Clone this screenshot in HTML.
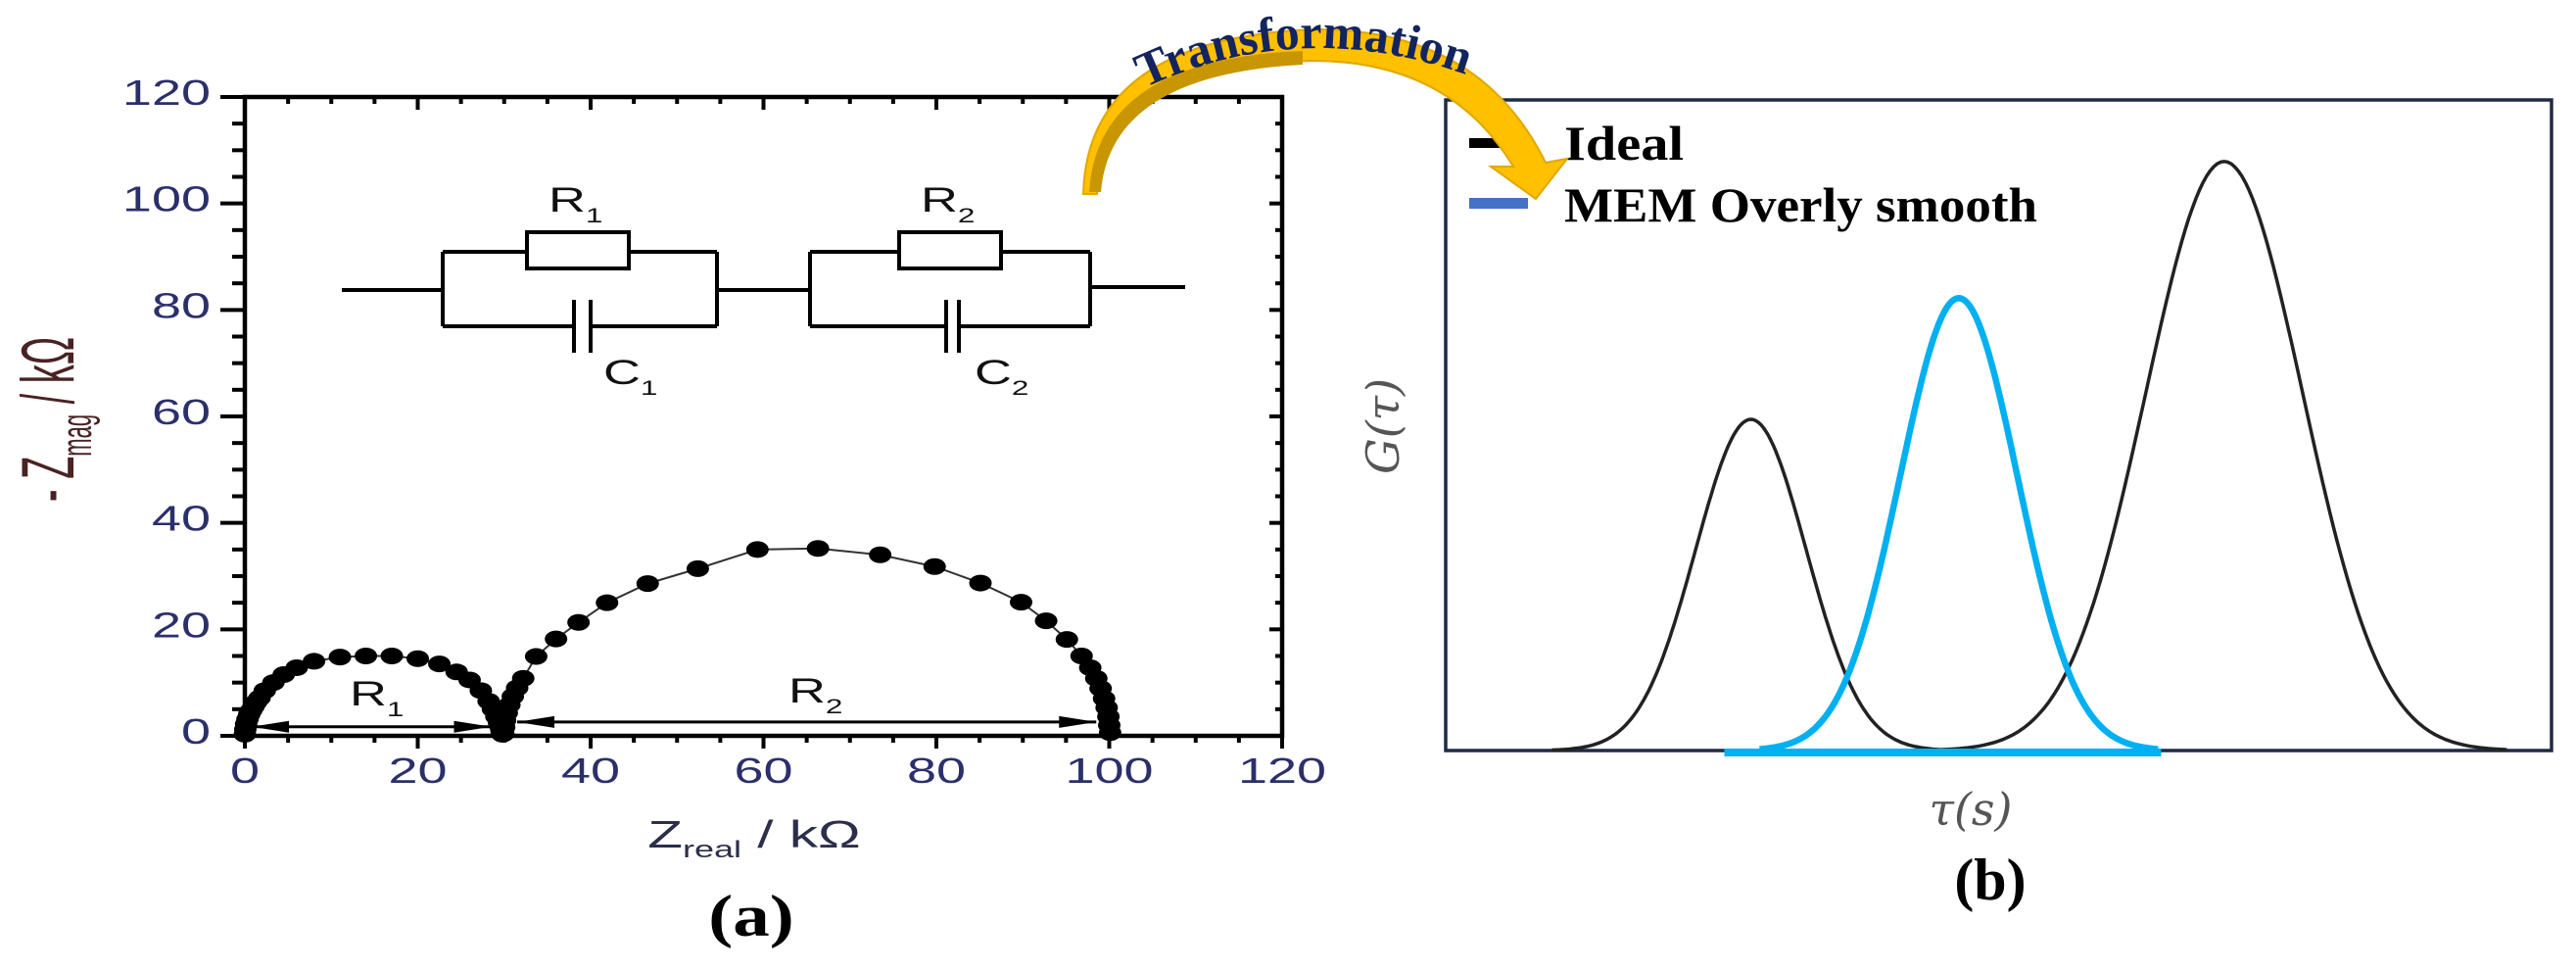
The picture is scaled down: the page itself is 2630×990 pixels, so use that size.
<!DOCTYPE html>
<html><head><meta charset="utf-8"><style>
html,body{margin:0;padding:0;background:#fff;}
svg{display:block;}
</style></head><body>
<svg id="fig" width="2630" height="990" viewBox="0 0 2630 990" xmlns="http://www.w3.org/2000/svg">
<g id="panelA"></g>
<g id="panelB"></g>
<g id="arrowG">
  <defs><path id="txtArc" d="M1168,90 Q1360,0 1570,108"/></defs>
  <path d="M1120,198 Q1130,70 1340,62 Q1480,62 1545,170 L1522,170 L1568,203 L1600,162 L1578,166 Q1510,28 1340,30 Q1110,40 1106,198 Z" fill="#ffc000" stroke="#e0a800" stroke-width="2"/>
  <path d="M1124,196 Q1134,76 1330,66 L1330,52 Q1120,60 1112,196 Z" fill="#c89600"/>
  <text font-family="Liberation Serif, serif" font-weight="bold" font-size="50" fill="#14245e"><textPath href="#txtArc">Transformation</textPath></text>
</g>
</svg>
<script>
// ---------- Panel (a) data ----------
const xTicksA = [0,20,40,60,80,100,120];
const yTicksA = [0,20,40,60,80,100,120];
const arc1Re = [0,0.05,0.15,0.3,0.5,0.75,1,1.3,1.7,2.3,3.3,4.5,6,8,11,14,17,20,22.5,24.5,26,27.3,28.2,28.7,29.1,29.4,29.6,29.7,29.8];
const arc1Im = [0.3,1.2,2.2,3.1,4,4.8,5.5,6.3,7.1,8.5,10,11.5,12.8,14,14.8,15,15,14.5,13.5,12,10.5,8.5,6.5,5,3.6,2.5,1.6,0.9,0.3];
const arc2Re = [29.9,30,30.1,30.3,30.6,31,31.5,32.2,33.7,36,38.6,41.9,46.6,52.4,59.3,66.3,73.5,79.8,85.1,89.8,92.7,95.1,96.8,97.8,98.5,99,99.4,99.7,99.9,100,100.1];
const arc2Im = [0.4,1.6,2.9,4.3,5.8,7.4,9,10.8,14.9,18.2,21.3,25,28.6,31.4,35,35.2,34,31.8,28.7,25.1,21.6,18.1,15,12.8,10.8,8.9,7,5.3,3.6,2,0.6];

// ---------- Panel (b) data ----------
const idealCenters = [27.6, 70.4];
const idealHeights = [0.56, 0.996];
const idealWidths = [5.0, 7.1];
const memCenters = [46.4];
const memHeights = [0.765];
const memWidths = [5.3];

const NS = "http://www.w3.org/2000/svg";
function mk(parent, tag, attrs, text){
  const e = document.createElementNS(NS, tag);
  for (const k in attrs) e.setAttribute(k, attrs[k]);
  if (text !== undefined) e.textContent = text;
  parent.appendChild(e); return e;
}
const A = document.getElementById('panelA');
const B = document.getElementById('panelB');
const SX = 1.5;

const aL=250,aR=1309,aT=99,aB=751;
const xa = v => aL + (v/120)*(aR-aL);
const ya = v => aB - (v/120)*(aB-aT);

const frame = mk(A,'rect',{x:aL,y:aT,width:aR-aL,height:aB-aT,fill:'none',stroke:'#000','stroke-width':4.5});



for (let v=0; v<=120; v+=5){
  const major = v%20===0;
  const lenH = major?13:7;
  const lenV = major?25:13;
  const X = xa(v), Y = ya(v);
  mk(A,'line',{x1:X,y1:aB,x2:X,y2:aB+lenH,stroke:'#000','stroke-width':4});
  mk(A,'line',{x1:X,y1:aT,x2:X,y2:aT+lenH,stroke:'#000','stroke-width':4});
  mk(A,'line',{x1:aL-lenV,y1:Y,x2:aL,y2:Y,stroke:'#000','stroke-width':4});
  mk(A,'line',{x1:aR-lenH,y1:Y,x2:aR,y2:Y,stroke:'#000','stroke-width':4});
}
function stext(parent,x,y,anchor,size,fill,str){
  return mk(parent,'text',{x:0,y:0,'text-anchor':anchor,'font-family':'Liberation Sans, sans-serif','font-size':size,fill:fill,transform:`translate(${x},${y}) scale(${SX},1)`},str);
}
xTicksA.forEach(v=>{
  const t = stext(A,xa(v),799,'middle',36,'#2b2f6a',String(v));
  
  
});
yTicksA.forEach(v=>{
  const t = stext(A,215,ya(v)+8,'end',36,'#2b2f6a',String(v));
  
  
});
const xt = stext(A,770,865,'middle',39,'#2b2f4a','');


xt.innerHTML = 'Z<tspan font-size="24" dy="10">real</tspan><tspan dy="-10"> / kΩ</tspan>';
const yt = mk(A,'text',{x:0,y:0,'text-anchor':'middle','font-family':'Liberation Sans, sans-serif','font-size':38,fill:'#4a2222',transform:'translate(75,428) scale(2,1) rotate(-90)'});


yt.innerHTML = '- Z<tspan font-size="22" dy="9">mag</tspan><tspan dy="-9"> / kΩ</tspan>';

const circ = mk(A,'g',{stroke:'#000','stroke-width':4,fill:'none'});


[[349,296,452,296],[732,296,827,296],[1113,293,1210,293],
 [452,257,538,257],[642,257,732,257],[452,257,452,333],[732,257,732,333],[452,333,586,333],[603,333,732,333],
 [827,257,918,257],[1022,257,1113,257],[827,257,827,333],[1113,257,1113,333],[827,333,966,333],[979,333,1113,333],
 [586,306,586,360],[603,306,603,360],[966,306,966,360],[979,306,979,360]].forEach(l=>{
  mk(circ,'line',{x1:l[0],y1:l[1],x2:l[2],y2:l[3]});
});
mk(circ,'rect',{x:538,y:237,width:104,height:37,fill:'#fff'});
mk(circ,'rect',{x:918,y:237,width:104,height:37,fill:'#fff'});
function sublabel(parent,x,y,main,sub,name){
  const t = stext(parent,x,y,'start',35,'#111','');
  
  
  t.innerHTML = main+'<tspan font-size="21" dy="11">'+sub+'</tspan>';
}
sublabel(A,560,216,'R','1','r1-label');
sublabel(A,616,392,'C','1','c1-label');
sublabel(A,940,216,'R','2','r2-label');
sublabel(A,995,392,'C','2','c2-label');

function series(re,im,name){
  const g = mk(A,'g',{});
  
  
  const pts = re.map((v,i)=>xa(v)+','+ya(im[i])).join(' ');
  mk(g,'polyline',{points:pts,fill:'none',stroke:'#333','stroke-width':2});
  re.forEach((v,i)=>{
    const c = mk(g,'ellipse',{cx:xa(v),cy:ya(im[i]),rx:11.5,ry:8.5,fill:'#000'});
    
    
  });
}
series(arc1Re,arc1Im,'arc-r1c1');
series(arc2Re,arc2Im,'arc-r2c2');

function dimArrow(x1,x2,yv,name){
  const g = mk(A,'g',{});
  
  
  const X1=xa(x1),X2=xa(x2),Y=ya(yv);
  mk(g,'line',{x1:X1,y1:Y,x2:X2,y2:Y,stroke:'#000','stroke-width':3});
  mk(g,'polygon',{points:`${X1},${Y} ${X1+38},${Y-6} ${X1+38},${Y+6}`,fill:'#000'});
  mk(g,'polygon',{points:`${X2},${Y} ${X2-38},${Y-6} ${X2-38},${Y+6}`,fill:'#000'});
}
dimArrow(0.8,28.5,1.7,'r1-span-arrow');
dimArrow(31.5,98.5,2.6,'r2-span-arrow');
sublabel(A,357,720,'R','1','r1-span-label');
sublabel(A,805,717,'R','2','r2-span-label');

const la = mk(A,'text',{x:0,y:0,'text-anchor':'middle','font-family':'Liberation Serif, serif','font-weight':'bold','font-size':60,fill:'#000',transform:'translate(767,955) scale(1.25,1)'},'(a)');



// ---------- Panel (b) ----------
const bL=1476,bR=2605,bT=102,bB=766;
const xb = v => bL + (v/100)*(bR-bL);
const yb = v => bB - v*603.6;
const fb = mk(B,'rect',{x:bL,y:bT,width:bR-bL,height:bB-bT,fill:'none',stroke:'#1f2a44','stroke-width':3.5});



function gauss(c,h,w,color,sw,name,span){
  const pts=[];
  for(let k=0;k<=160;k++){
    const x = c-span*w + k*(2*span*w/160);
    const y = h*Math.exp(-0.5*((x-c)/w)**2);
    pts.push(xb(x).toFixed(1)+','+yb(y).toFixed(1));
  }
  const p = mk(B,'polyline',{points:pts.join(' '),fill:'none',stroke:color,'stroke-width':sw,'stroke-linejoin':'round'});
  
  
}
idealCenters.forEach((c,i)=>gauss(c,idealHeights[i],idealWidths[i],'#222',3.5,'ideal-peak-'+(i+1),3.6));
memCenters.forEach((c,i)=>{
  const bl = mk(B,'line',{x1:xb(c-21.2),y1:bB+2,x2:xb(c+18.3),y2:bB+2,stroke:'#00b0f0','stroke-width':8});
  
  
  gauss(c,memHeights[i],memWidths[i],'#00b0f0',6.5,'mem-peak',3.4);
});

const lg = mk(B,'g',{});


mk(lg,'rect',{x:1500,y:141,width:40,height:10,fill:'#000'});
mk(lg,'rect',{x:1500,y:202,width:60,height:11,fill:'#4472c4'});
const l1 = mk(lg,'text',{x:1597,y:163,'font-family':'Liberation Serif, serif','font-weight':'bold','font-size':50,fill:'#000',textLength:122,lengthAdjust:'spacingAndGlyphs'},'Ideal');


const l2 = mk(lg,'text',{x:1597,y:226,'font-family':'Liberation Serif, serif','font-weight':'bold','font-size':50,fill:'#000',textLength:483,lengthAdjust:'spacingAndGlyphs'},'MEM Overly smooth');



const gy = mk(B,'text',{x:0,y:0,'text-anchor':'middle','font-family':'DejaVu Serif, serif','font-style':'italic','font-size':46,fill:'#555',transform:'translate(1428,435) rotate(-90)'},'G(τ)');


const gx = mk(B,'text',{x:2012,y:842,'text-anchor':'middle','font-family':'DejaVu Serif, serif','font-style':'italic','font-size':46,fill:'#555'},'τ(s)');


const lb = mk(B,'text',{x:2032,y:918,'text-anchor':'middle','font-family':'Liberation Serif, serif','font-weight':'bold','font-size':60,fill:'#000'},'(b)');


</script>
</body></html>
